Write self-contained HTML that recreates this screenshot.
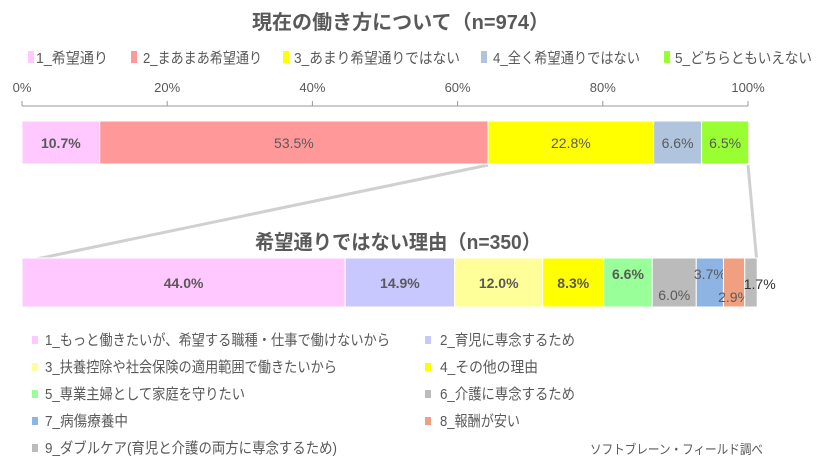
<!DOCTYPE html>
<html><head><meta charset="utf-8"><style>
body{margin:0;background:#fff;}
svg{display:block;font-family:"Liberation Sans","Noto Sans CJK JP",sans-serif;}
</style></head><body>
<svg id="c" width="824" height="471"></svg>
<script>
const topCats=["1_希望通り","2_まあまあ希望通り","3_あまり希望通りではない","4_全く希望通りではない","5_どちらともいえない"];
const topVals=[10.7,53.5,22.8,6.6,6.5];
const topColors=["#ffc8ff","#ff9999","#ffff00","#b0c4de","#99ff33"];
const botCats=["1_もっと働きたいが、希望する職種・仕事で働けないから","2_育児に専念するため","3_扶養控除や社会保険の適用範囲で働きたいから","4_その他の理由","5_専業主婦として家庭を守りたい","6_介護に専念するため","7_病傷療養中","8_報酬が安い","9_ダブルケア(育児と介護の両方に専念するため)"];
const botVals=[44.0,14.9,12.0,8.3,6.6,6.0,3.7,2.9,1.7];
const botColors=["#ffc8ff","#c8c8ff","#ffff99","#ffff00","#99ff99","#bbbbbb","#8eb4e3","#f0a080","#bbbbbb"];
const ticks=[0,20,40,60,80,100];

const NS="http://www.w3.org/2000/svg";
const svg=document.getElementById('c');
function el(t,a,p){const e=document.createElementNS(NS,t);for(const k in a)e.setAttribute(k,a[k]);(p||svg).appendChild(e);return e;}
function txt(s,a,p){const e=el('text',a,p);e.textContent=s;return e;}
const xT=v=>22+v*7.26;
const xB=v=>22+v*7.345;
const g='#595959';

let t=txt("現在の働き方について（n=974）",{x:252,y:29,'font-size':20,'font-weight':'bold',fill:g,textLength:297,lengthAdjust:'spacingAndGlyphs'});

t=txt("希望通りではない理由（n=350）",{x:255,y:249,'font-size':20,'font-weight':'bold',fill:g,textLength:286,lengthAdjust:'spacingAndGlyphs'});


const tlx=[28,131,283,481,664],tlt=[36,143,294,493,675],tlw=[72,119,166,147,137];
topCats.forEach((c,i)=>{
  const r=el('rect',{x:tlx[i],y:51,width:6,height:12,fill:topColors[i]});
  
  const s=txt(c,{x:tlt[i],y:63,'font-size':15,fill:g,textLength:tlw[i],lengthAdjust:'spacingAndGlyphs'});
  
});
const ax=el('line',{x1:xT(0),x2:xT(100),y1:106,y2:106,stroke:'#999','stroke-width':1});

ticks.forEach(v=>{
  el('line',{x1:xT(v),x2:xT(v),y1:101,y2:106,stroke:'#999'});
  const s=txt(v+'%',{x:xT(v),y:92,'text-anchor':'middle','font-size':13,fill:g});
  
});
let cum=0;topVals.forEach((v,i)=>{if(i<2)cum+=v;});
const l1=el('line',{x1:xT(cum),y1:165,x2:22,y2:262,stroke:'#d0d0d0','stroke-width':3});

const l2=el('line',{x1:xT(100),y1:165,x2:xB(100),y2:258,stroke:'#d0d0d0','stroke-width':3});

let acc=0;
topVals.forEach((v,i)=>{
  const x0=xT(acc),x1=xT(acc+v);
  const r=el('rect',{x:x0,y:121,width:x1-x0,height:43,fill:topColors[i],stroke:'#fff','stroke-width':1});
  
  const s=txt(v.toFixed(1)+'%',{x:(x0+x1)/2,y:148,'text-anchor':'middle','font-size':14,'font-weight':i==0?'bold':'normal',fill:g});
  
  acc+=v;
});
acc=0;
botVals.forEach((v,i)=>{
  const x0=xB(acc),x1=xB(acc+v);
  const r=el('rect',{x:x0,y:258,width:x1-x0,height:49,fill:botColors[i],stroke:'#fff','stroke-width':1});
  
  let y=288,cx=(x0+x1)/2,anc='middle',fill=g;
  if(i==4)y=279; if(i==5)y=300; if(i==6)y=279; if(i==7){y=302;} if(i==8){y=289;cx=x0-1;anc='start';fill='#333';}
  const s=txt(v.toFixed(1)+'%',{x:cx,y:y,'text-anchor':anc,'font-size':14,'font-weight':i<5?'bold':'normal',fill:fill});
  
  acc+=v;
});
const blw=[345,135,292,98,200,135,83,80,292];
botCats.forEach((c,i)=>{
  const col=i%2,row=Math.floor(i/2);
  const x=col?425:32,y=345+row*27;
  const r=el('rect',{x:x,y:y-9,width:6,height:8,fill:botColors[i]});
  
  const s=txt(c,{x:x+(col?15:13),y:y,'font-size':15,fill:g,textLength:blw[i],lengthAdjust:'spacingAndGlyphs'});
  
});
t=txt("ソフトブレーン・フィールド調べ",{x:590,y:454,'font-size':13,fill:g,textLength:173,lengthAdjust:'spacingAndGlyphs'});

</script>
</body></html>
